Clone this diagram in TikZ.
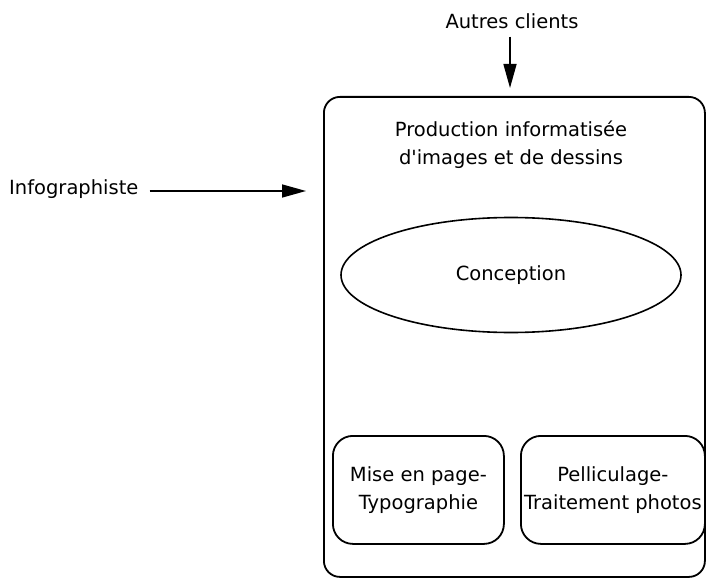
\documentclass[tikz,border=0pt]{standalone}
\usepackage{fontspec}
\setmainfont{DejaVu Sans}[Ligatures=TeXOff]
\usetikzlibrary{arrows.meta,shapes.geometric}
\begin{document}
\begin{tikzpicture}[x=1pt,y=-1pt,
  lbl/.style={font=\fontsize{19.5}{28}\selectfont, align=center, inner sep=0pt},
  frame/.style={draw, line width=1.8pt, rounded corners=16pt},
  subbox/.style={draw, line width=1.8pt, rounded corners=20pt},
  flow/.style={line width=1.5pt, -{Triangle[length=24pt,width=13pt]}}]
  \useasboundingbox (0,0) rectangle (706,580);
  % outer domain box
  \node[frame, minimum width=381pt, minimum height=480pt, anchor=north west] (dom) at (323,96) {};
  \node[lbl] (title) at (511,145) {Production informatisée\\d'images et de dessins};
  \node[draw, ellipse, line width=1.6pt, minimum width=340pt, minimum height=115pt] (conc) at (511,275) {};
  \node[lbl] at (conc) {Conception};
  % sub-activities
  \node[subbox, minimum width=171pt, minimum height=108pt, anchor=north west] (mise) at (332,435) {};
  \node[lbl] at (mise) {Mise en page-\\Typographie};
  \node[subbox, minimum width=184pt, minimum height=108pt, anchor=north west] (pell) at (520,435) {};
  \node[lbl] at (pell) {Pelliculage-\\Traitement photos};
  % external actors
  \node[lbl, anchor=west] (info) at (9,189) {Infographiste};
  \node[lbl] (autres) at (512,21) {Autres clients};
  \coordinate (infoend) at (306,191);
  \coordinate (autresend) at (510,88);
  \draw[flow] (info.east |- infoend) ++(11,0) -- (infoend);
  \draw[flow] (autresend |- autres.south) ++(0,8) -- (autresend);
\end{tikzpicture}
\end{document}
